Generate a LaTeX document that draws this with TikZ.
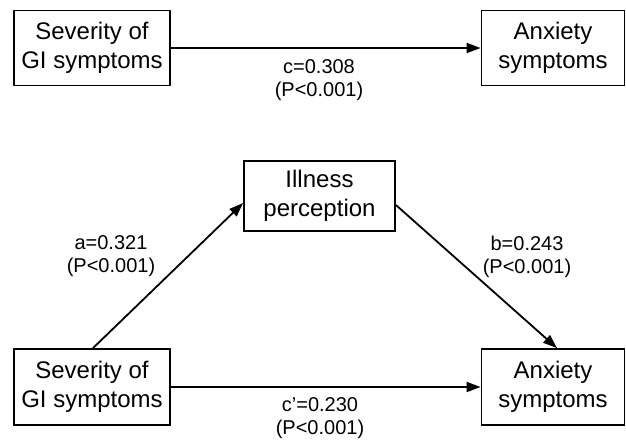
\documentclass[tikz,border=0pt]{standalone}
\usepackage{fontspec}
\setmainfont{Liberation Sans}
\usetikzlibrary{arrows.meta,calc}
\begin{document}
\begin{tikzpicture}[x=1pt,y=-1pt,
  varbox/.style={draw,line width=1.8pt,inner sep=0pt,align=center,
    font=\fontsize{24}{29.5}\selectfont},
  coef/.style={inner sep=0pt,align=center,font=\fontsize{20}{23}\selectfont},
  path/.style={line width=1.8pt,-{Triangle[length=14pt,width=10pt]}}]
\useasboundingbox (0,0) rectangle (626,445);
\node[varbox,minimum width=156pt,minimum height=75pt] (sev1) at (92,48) {Severity of\\GI symptoms};
\node[varbox,minimum width=143pt,minimum height=75pt] (anx1) at (553,48) {Anxiety\\symptoms};
\node[varbox,minimum width=151pt,minimum height=70pt] (ill) at (319.5,196) {Illness\\perception};
\node[varbox,minimum width=156pt,minimum height=76pt] (sev2) at (92,387) {Severity of\\GI symptoms};
\node[varbox,minimum width=143pt,minimum height=76pt] (anx2) at (553,387) {Anxiety\\symptoms};
\draw[path] (sev1.east) -- (anx1.west);
\draw[path] (sev2.east) -- (anx2.west);
\draw[path] ($(sev2.north)+(1,0)$) -- ($(ill.west)+(0,7)$);
\draw[path] ($(ill.east)+(0,9)$) -- ($(anx2.north)+(4,0)$);
\node[coef] (lc) at (319,80.5) {c=0.308\\(P<0.001)};
\node[coef] (la) at (111,256.5) {a=0.321\\(P<0.001)};
\node[coef] (lb) at (527,256.5) {b=0.243\\(P<0.001)};
\node[coef] (lcp) at (320,418.5) {c’=0.230\\(P<0.001)};
\end{tikzpicture}
\end{document}
